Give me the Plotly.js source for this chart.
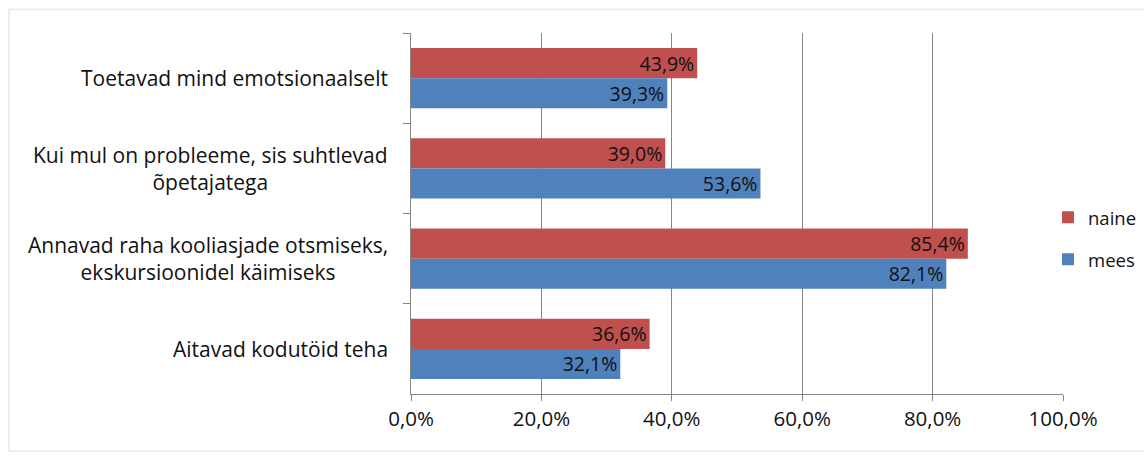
<!DOCTYPE html>
<html><head><meta charset="utf-8">
<script src="https://cdn.plot.ly/plotly-3.0.1.min.js"></script>
<style>html,body{margin:0;padding:0;background:#fff;overflow:hidden}#chart{width:1200px;height:458px}</style>
</head><body><div id="chart"></div>
<script>
var categories = [
  "Toetavad mind emotsionaalselt",
  "Kui mul on probleeme, sis suhtlevad<br>õpetajatega",
  "Annavad raha kooliasjade otsmiseks,<br>ekskursioonidel käimiseks",
  "Aitavad kodutöid teha"
];
var naine = [0.439, 0.390, 0.854, 0.366];
var mees = [0.393, 0.536, 0.821, 0.321];
var xTicks = [0, 0.2, 0.4, 0.6, 0.8, 1.0];

var FONT = "'Open Sans', Lato, sans-serif";
function lbl(v){ return (v*100).toFixed(1).replace('.', ',') + '%'; }

var traces = [
  {type:'bar', orientation:'h', name:'naine', y:categories, x:naine, legendgroup:'a',
   marker:{color:'#C0504D'}, text:naine.map(lbl), textposition:'inside', insidetextanchor:'end', constraintext:'none',
   insidetextfont:{color:'#111', size:19.5, family:FONT}, textangle:0, cliponaxis:false, hoverinfo:'none'},
  {type:'bar', orientation:'h', name:'mees', y:categories, x:mees, legendgroup:'b',
   marker:{color:'#4F81BD'}, text:mees.map(lbl), textposition:'inside', insidetextanchor:'end', constraintext:'none',
   insidetextfont:{color:'#111', size:19.5, family:FONT}, textangle:0, cliponaxis:false, hoverinfo:'none'}
];

var PW = 652;
var annotations = categories.map(function(c){
  return {xref:'paper', yref:'y', x:-21/PW, y:c, text:c, showarrow:false, xanchor:'right',
          align:'center', font:{size:21, color:'#111', family:FONT}};
});

var layout = {
  width:1200, height:458,
  margin:{l:411, r:137, t:33, b:64},
  paper_bgcolor:'#fff', plot_bgcolor:'#fff',
  font:{family:FONT, color:'#111'},
  barmode:'group', bargap:0.333, bargroupgap:0,
  separators:',.',
  xaxis:{range:[0,1], tickvals:xTicks, tickformat:'.1%', showgrid:true, gridcolor:'#868686', gridwidth:1,
         showline:true, linecolor:'#868686', linewidth:1, ticks:'outside', ticklen:6, tickcolor:'#868686',
         tickfont:{size:20.5, color:'#111', family:FONT}, zeroline:false, fixedrange:true},
  yaxis:{type:'category', autorange:'reversed', showticklabels:false, showline:true, linecolor:'#868686',
         ticks:'outside', tickson:'boundaries', ticklen:7, tickcolor:'#868686', showgrid:false, fixedrange:true},
  showlegend:true,
  legend:{x:(1048-411)/PW, y:0.43, xanchor:'left', yanchor:'middle', traceorder:'grouped', tracegroupgap:15,
          font:{size:18.5, color:'#111', family:FONT}, bgcolor:'rgba(0,0,0,0)', itemwidth:30},
  annotations:annotations,
  shapes:[{type:'rect', xref:'paper', yref:'paper', x0:-402/PW, x1:1.3, y0:-0.158, y1:1.066,
           line:{color:'#dcdcdc', width:1}, fillcolor:'rgba(0,0,0,0)', layer:'below'}]
};

Plotly.newPlot('chart', traces, layout, {staticPlot:true, displayModeBar:false});
</script></body></html>
